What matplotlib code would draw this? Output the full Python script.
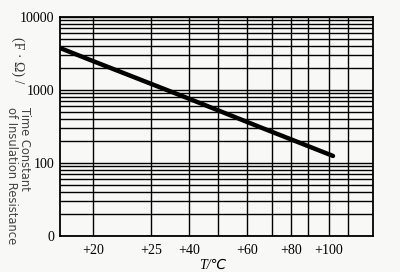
import matplotlib
matplotlib.use("Agg")
import matplotlib.pyplot as plt
from matplotlib.ticker import LogLocator, NullFormatter

# x axis: position units along the (non-linear) temperature scale
x_grid = [33, 91, 129, 158, 187, 212, 231, 248, 269, 288]
x_tick_pos = [33, 91, 129, 187, 231, 269]
x_tick_labels = ["+20", "+25", "+40", "+60", "+80", "+100"]
x_max = 313

# curve: time constant vs position
curve_x = [0, 33, 129, 200, 273]
curve_y = [3760, 2490, 760, 310, 125]

y_ticks = [10, 100, 1000, 10000]
y_tick_labels = ["0", "100", "1000", "10000"]

serif = ["Liberation Serif", "DejaVu Serif"]

fig = plt.figure(figsize=(4.0, 2.72), dpi=100, facecolor="#f8f8f6")
ax = fig.add_axes([60/400, 1-236/272, 313/400, (236-17)/272])
ax.set_facecolor("#f8f8f6")
ax.set_yscale("log")
ax.set_xlim(0, x_max)
ax.set_ylim(10, 10000)

for xv in x_grid:
    ax.axvline(xv, color="black", lw=1.0, zorder=1)
ax.yaxis.set_minor_locator(LogLocator(base=10, subs=range(2, 10)))
ax.yaxis.set_minor_formatter(NullFormatter())
ax.grid(True, which="both", axis="y", color="black", lw=1.0, zorder=1)

ax.plot(curve_x, curve_y, color="black", lw=3.2, solid_capstyle="round", zorder=3)

ax.set_yticks(y_ticks)
ax.set_yticklabels(y_tick_labels, fontfamily=serif, fontsize=10)
ax.set_xticks(x_tick_pos)
ax.set_xticklabels(x_tick_labels, fontfamily=serif, fontsize=10)
ax.tick_params(which="both", length=0, pad=4)
ax.tick_params(axis="x", pad=6)
for s in ax.spines.values():
    s.set_linewidth(1.3)
    s.set_color("black")

fig.text(18/400, 1-60/272, "(F · Ω) /", rotation=270, ha="center", va="center",
         fontfamily=serif, fontsize=10, color="#333333")
fig.text(18/400, 1-107/272, "Time Constant\nof Insulation Resistance", rotation=270,
         ha="center", va="top", multialignment="left",
         fontfamily=["DejaVu Sans"], fontsize=8.3, color="#444444", linespacing=1.05)
fig.text(213/400, 1-265/272, "T/℃", ha="center", va="center",
         fontfamily=["Liberation Serif", "DejaVu Sans"], fontsize=10, style="italic")

fig.savefig("out.png", dpi=100, facecolor=fig.get_facecolor())
